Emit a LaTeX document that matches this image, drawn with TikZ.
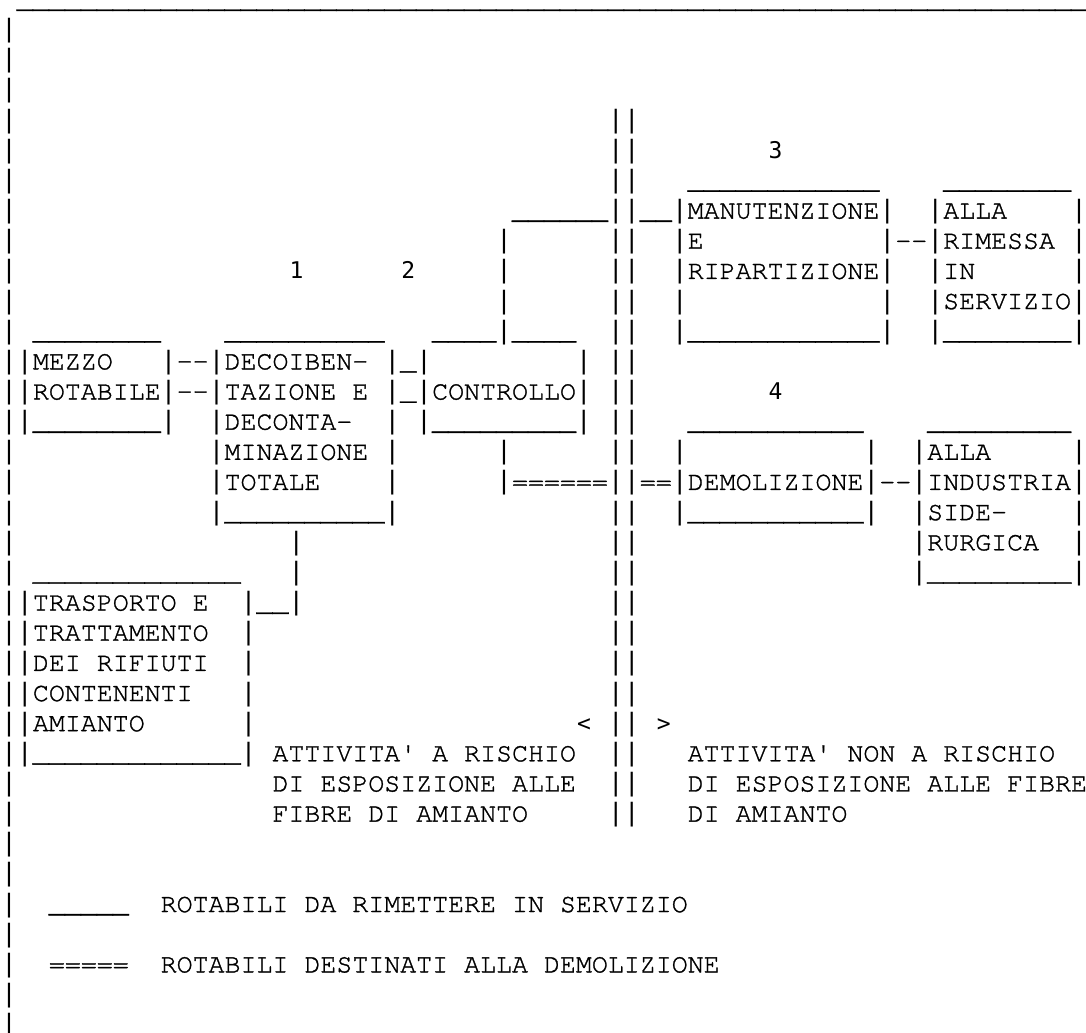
\documentclass[tikz,border=0pt]{standalone}
\usepackage{fontspec}
\newfontfamily\cursorfam[FakeBold=1.2]{texgyrecursor-regular.otf}
\newfontfamily\libmonofam{Liberation Mono}
\newfontfamily\dvmonofam{DejaVu Sans Mono}
\newdimen\asciicw
\asciicw=7.985pt
\newcommand\crglyph{\cursorfam\bfseries\fontsize{13.3pt}{16pt}\selectfont}
\newcommand\barglyph{\libmonofam\fontsize{13.3pt}{16pt}\selectfont}
\newcommand\dvglyph{\dvmonofam\fontsize{11.5pt}{16pt}\selectfont}
\ExplSyntaxOn
\cs_new_protected:Npn \asciistr #1
  {
    \str_map_inline:nn {#1}
      {
        \hbox_to_wd:nn { \asciicw }
          {
            \hss
            \str_if_in:nnTF { | } {##1}
              { { \barglyph ##1 } }
              {
                \str_if_in:nnTF { 1234<> } {##1}
                  { { \dvglyph ##1 } }
                  { { \crglyph ##1 } }
              }
            \hss
          }
      }
  }
\ExplSyntaxOff
\newcommand\aseg[2]{\rlap{\kern#1\asciicw\asciistr{#2}}}
\begin{document}
\begin{tikzpicture}[x=7.985pt,y=-15.075pt,
  asciiline/.style={anchor=base west,inner sep=0pt,outer sep=0pt}]
\fill[white,use as bounding box] (0,0) rectangle (68,34.229);
\node[asciiline] (r0) at (0,0.25) {\aseg{1}{___________________________________________________________________}};
\node[asciiline] (r1) at (0,1.25) {\aseg{0}{|}};
\node[asciiline] (r2) at (0,2.25) {\aseg{0}{|}};
\node[asciiline] (r3) at (0,3.25) {\aseg{0}{|}};
\node[asciiline] (r4) at (0,4.25) {\aseg{0}{|}\aseg{38}{||}};
\node[asciiline] (r5) at (0,5.25) {\aseg{0}{|}\aseg{38}{||}\aseg{48}{3}};
\node[asciiline] (r6) at (0,6.25) {\aseg{0}{|}\aseg{38}{||}\aseg{43}{____________}\aseg{59}{________}};
\node[asciiline] (r7) at (0,7.25) {\aseg{0}{|}\aseg{32}{______||__|MANUTENZIONE|}\aseg{58}{|ALLA}\aseg{67}{|}};
\node[asciiline] (r8) at (0,8.25) {\aseg{0}{|}\aseg{31}{|}\aseg{38}{||}\aseg{42}{|E}\aseg{55}{|--|RIMESSA}\aseg{67}{|}};
\node[asciiline] (r9) at (0,9.25) {\aseg{0}{|}\aseg{18}{1}\aseg{25}{2}\aseg{31}{|}\aseg{38}{||}\aseg{42}{|RIPARTIZIONE|}\aseg{58}{|IN}\aseg{67}{|}};
\node[asciiline] (r10) at (0,10.25) {\aseg{0}{|}\aseg{31}{|}\aseg{38}{||}\aseg{42}{|}\aseg{55}{|}\aseg{58}{|SERVIZIO|}};
\node[asciiline] (r11) at (0,11.25) {\aseg{0}{|}\aseg{2}{________}\aseg{14}{__________}\aseg{27}{____|____}\aseg{38}{||}\aseg{42}{|____________|}\aseg{58}{|________|}};
\node[asciiline] (r12) at (0,12.25) {\aseg{0}{||MEZZO}\aseg{10}{|--|DECOIBEN-}\aseg{24}{|_|}\aseg{36}{|}\aseg{38}{||}};
\node[asciiline] (r13) at (0,13.25) {\aseg{0}{||ROTABILE|--|TAZIONE E}\aseg{24}{|_|CONTROLLO|}\aseg{38}{||}\aseg{48}{4}};
\node[asciiline] (r14) at (0,14.25) {\aseg{0}{||________|}\aseg{13}{|DECONTA-}\aseg{24}{|}\aseg{26}{|_________|}\aseg{38}{||}\aseg{43}{___________}\aseg{58}{_________}};
\node[asciiline] (r15) at (0,15.25) {\aseg{0}{|}\aseg{13}{|MINAZIONE}\aseg{24}{|}\aseg{31}{|}\aseg{38}{||}\aseg{42}{|}\aseg{54}{|}\aseg{57}{|ALLA}\aseg{67}{|}};
\node[asciiline] (r16) at (0,16.25) {\aseg{0}{|}\aseg{13}{|TOTALE}\aseg{24}{|}\aseg{31}{|======||==|DEMOLIZIONE|--|INDUSTRIA|}};
\node[asciiline] (r17) at (0,17.25) {\aseg{0}{|}\aseg{13}{|__________|}\aseg{38}{||}\aseg{42}{|___________|}\aseg{57}{|SIDE-}\aseg{67}{|}};
\node[asciiline] (r18) at (0,18.25) {\aseg{0}{|}\aseg{18}{|}\aseg{38}{||}\aseg{57}{|RURGICA}\aseg{67}{|}};
\node[asciiline] (r19) at (0,19.25) {\aseg{0}{|}\aseg{2}{_____________}\aseg{18}{|}\aseg{38}{||}\aseg{57}{|_________|}};
\node[asciiline] (r20) at (0,20.25) {\aseg{0}{||TRASPORTO E}\aseg{15}{|__|}\aseg{38}{||}};
\node[asciiline] (r21) at (0,21.25) {\aseg{0}{||TRATTAMENTO}\aseg{15}{|}\aseg{38}{||}};
\node[asciiline] (r22) at (0,22.25) {\aseg{0}{||DEI RIFIUTI}\aseg{15}{|}\aseg{38}{||}};
\node[asciiline] (r23) at (0,23.25) {\aseg{0}{||CONTENENTI}\aseg{15}{|}\aseg{38}{||}};
\node[asciiline] (r24) at (0,24.25) {\aseg{0}{||AMIANTO}\aseg{15}{|}\aseg{36}{<}\aseg{38}{||}\aseg{41}{>}};
\node[asciiline] (r25) at (0,25.25) {\aseg{0}{||_____________|}\aseg{17}{ATTIVITA' A RISCHIO}\aseg{38}{||}\aseg{43}{ATTIVITA' NON A RISCHIO}};
\node[asciiline] (r26) at (0,26.25) {\aseg{0}{|}\aseg{17}{DI ESPOSIZIONE ALLE}\aseg{38}{||}\aseg{43}{DI ESPOSIZIONE ALLE FIBRE}};
\node[asciiline] (r27) at (0,27.25) {\aseg{0}{|}\aseg{17}{FIBRE DI AMIANTO}\aseg{38}{||}\aseg{43}{DI AMIANTO}};
\node[asciiline] (r28) at (0,28.25) {\aseg{0}{|}};
\node[asciiline] (r29) at (0,29.25) {\aseg{0}{|}};
\node[asciiline] (r30) at (0,30.25) {\aseg{0}{|}\aseg{3}{_____}\aseg{10}{ROTABILI DA RIMETTERE IN SERVIZIO}};
\node[asciiline] (r31) at (0,31.25) {\aseg{0}{|}};
\node[asciiline] (r32) at (0,32.25) {\aseg{0}{|}\aseg{3}{=====}\aseg{10}{ROTABILI DESTINATI ALLA DEMOLIZIONE}};
\node[asciiline] (r33) at (0,33.25) {\aseg{0}{|}};
\node[asciiline] (r34) at (0,34.25) {\aseg{0}{|}};
\end{tikzpicture}
\end{document}
